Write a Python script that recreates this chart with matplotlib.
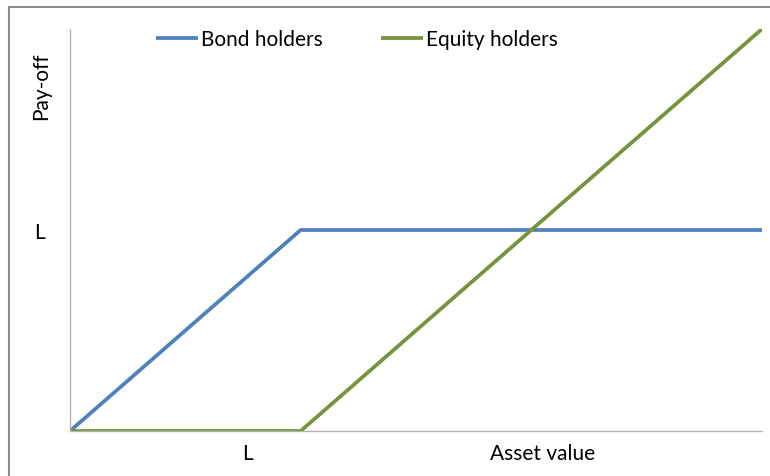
import matplotlib.pyplot as plt
from matplotlib.patches import Rectangle

# Pay-off diagram: x in units where L = 1
asset = [0, 1, 3]
bond = [0, 1, 1]
equity = [0, 0, 2]
L = 1

plt.rcParams['font.family'] = ['Lato', 'DejaVu Sans']

W, H = 770, 477
fig = plt.figure(figsize=(W / 100, H / 100), dpi=100)

# outer frame (only top/left visible in the reference)
fig.patches.append(Rectangle((9 / W, -0.1), 1.2, 1 - 8 / H + 0.1, transform=fig.transFigure,
                             fill=False, edgecolor='#8c8c8c', linewidth=1.5))

ax = fig.add_axes([70 / W, (H - 432) / H, 692 / W, 402 / H])
ax.plot(asset, bond, color='#4F81BD', linewidth=2.7, label='Bond holders', solid_capstyle='butt')
ax.plot(asset, equity, color='#77933C', linewidth=2.7, label='Equity holders', solid_capstyle='butt')

ax.set_xlim(0, 3)
ax.set_ylim(0, 2)
for s in ['top', 'right']:
    ax.spines[s].set_visible(False)
for s in ['left', 'bottom']:
    ax.spines[s].set_color('#b3b3b3')
    ax.spines[s].set_linewidth(1)
ax.set_xticks([])
ax.set_yticks([L])
ax.set_yticklabels(['L'], fontsize=15)
ax.tick_params(axis='y', length=0, pad=18)

ax.text(0.77, -0.11, 'L', fontsize=15, ha='center', va='center')
ax.text(2.05, -0.11, 'Asset value', fontsize=15, ha='center', va='center')
fig.text(41 / W, 1 - 86 / H, 'Pay-off', rotation=90, fontsize=15, ha='center', va='center')

ax.legend(loc='center', bbox_to_anchor=((357 - 70) / 692, 1 - 10 / 402), ncol=2, frameon=False,
          fontsize=15, handlelength=2.0, handletextpad=0.15, columnspacing=2.8)

fig.savefig('out.png', dpi=100)
